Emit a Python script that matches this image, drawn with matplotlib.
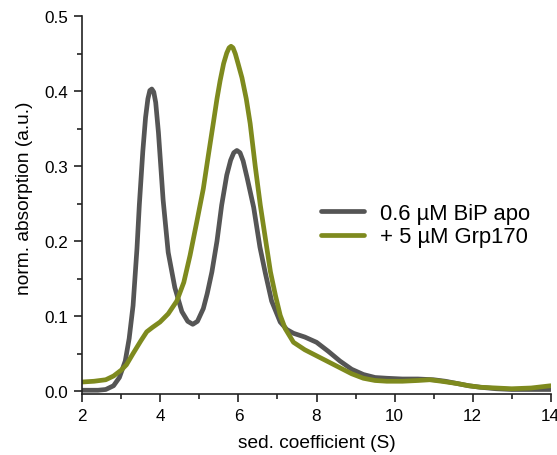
import matplotlib
matplotlib.use("Agg")
import matplotlib.pyplot as plt
from matplotlib.ticker import MultipleLocator

plt.rcParams['font.family'] = ['Liberation Sans', 'DejaVu Sans']

# Sedimentation coefficient distributions c(s)
s_apo = [2.0, 2.4, 2.6, 2.8, 2.95, 3.1, 3.2, 3.3, 3.4, 3.46, 3.55, 3.62, 3.68, 3.73,
         3.78, 3.83, 3.88, 3.95, 4.07, 4.2, 4.37, 4.55, 4.7, 4.83, 4.95, 5.1, 5.2,
         5.32, 5.45, 5.57, 5.7, 5.8, 5.88, 5.96, 6.04, 6.12, 6.22, 6.39, 6.55, 6.69,
         6.85, 7.07, 7.24, 7.41, 7.7, 8.0, 8.3, 8.6, 8.9, 9.2, 9.5, 9.8, 10.2, 10.6,
         11.0, 11.3, 11.6, 11.9, 12.2, 12.6, 13.0, 13.5, 14.0]
c_apo = [0.001, 0.001, 0.002, 0.007, 0.018, 0.040, 0.070, 0.114, 0.190, 0.248, 0.320,
         0.365, 0.390, 0.401, 0.403, 0.399, 0.385, 0.345, 0.255, 0.185, 0.138, 0.106,
         0.093, 0.089, 0.093, 0.110, 0.130, 0.159, 0.200, 0.248, 0.288, 0.308, 0.318,
         0.321, 0.318, 0.307, 0.285, 0.245, 0.192, 0.157, 0.120, 0.092, 0.082, 0.077,
         0.072, 0.065, 0.053, 0.040, 0.029, 0.022, 0.018, 0.017, 0.016, 0.016, 0.015,
         0.013, 0.010, 0.007, 0.005, 0.003, 0.002, 0.002, 0.002]

s_grp = [2.0, 2.3, 2.6, 2.8, 3.0, 3.13, 3.3, 3.5, 3.65, 3.8, 3.99, 4.2, 4.42, 4.6,
         4.76, 4.93, 5.1, 5.23, 5.36, 5.45, 5.53, 5.62, 5.7, 5.76, 5.81, 5.86, 5.92,
         5.99, 6.09, 6.2, 6.3, 6.43, 6.56, 6.7, 6.82, 6.95, 7.07, 7.2, 7.41, 7.7, 8.0,
         8.3, 8.6, 8.9, 9.2, 9.5, 9.8, 10.2, 10.6, 10.9, 11.2, 11.6, 11.9, 12.2, 12.6,
         13.0, 13.5, 14.0]
c_grp = [0.012, 0.013, 0.015, 0.020, 0.028, 0.035, 0.050, 0.067, 0.079, 0.085, 0.092,
         0.103, 0.120, 0.145, 0.181, 0.225, 0.270, 0.315, 0.359, 0.390, 0.414, 0.437,
         0.451, 0.458, 0.460, 0.458, 0.450, 0.437, 0.418, 0.390, 0.357, 0.300, 0.248,
         0.200, 0.159, 0.127, 0.101, 0.083, 0.065, 0.055, 0.047, 0.039, 0.031, 0.023,
         0.017, 0.014, 0.013, 0.013, 0.014, 0.015, 0.013, 0.010, 0.007, 0.005, 0.004,
         0.003, 0.004, 0.007]

labels = ["0.6 \u00b5M BiP apo", "+ 5 \u00b5M Grp170"]
colors = ["#555555", "#7e8a1e"]

fig = plt.figure(figsize=(5.57, 4.56), dpi=100)
ax = fig.add_axes([0.1478, 0.1338, 0.8409, 0.8282])

ax.plot(s_apo, c_apo, color=colors[0], lw=3.4, solid_capstyle='round',
        solid_joinstyle='round', label=labels[0])
ax.plot(s_grp, c_grp, color=colors[1], lw=3.4, solid_capstyle='round',
        solid_joinstyle='round', label=labels[1])

ax.set_xlim(2, 14)
ax.set_ylim(-0.004, 0.5)
ax.xaxis.set_major_locator(MultipleLocator(2))
ax.xaxis.set_minor_locator(MultipleLocator(1))
ax.yaxis.set_minor_locator(MultipleLocator(0.05))
ax.set_yticks([0.0, 0.1, 0.2, 0.3, 0.4, 0.5])
ax.set_yticklabels(["0.0", "0.1", "0.2", "0.3", "0.4", "0.5"])

for side in ("top", "right"):
    ax.spines[side].set_visible(False)
for side in ("left", "bottom"):
    ax.spines[side].set_linewidth(1.2)
    ax.spines[side].set_color("#222222")

ax.tick_params(which="major", direction="out", length=6, width=1.2,
               labelsize=12.3, color="#222222", pad=4)
ax.tick_params(which="minor", direction="out", length=3.5, width=1.2,
               color="#222222")

ax.set_xlabel("sed. coefficient (S)", fontsize=13.8, labelpad=8)
ax.set_ylabel("norm. absorption (a.u.)", fontsize=13.8)
ax.yaxis.set_label_coords(-0.106, 0.52)

ax.legend(loc="upper left", bbox_to_anchor=(0.49, 0.53), frameon=False,
          fontsize=15.8, handlelength=2.0, handletextpad=0.7,
          labelspacing=0.12, borderaxespad=0)

fig.savefig("out.png", dpi=100)
